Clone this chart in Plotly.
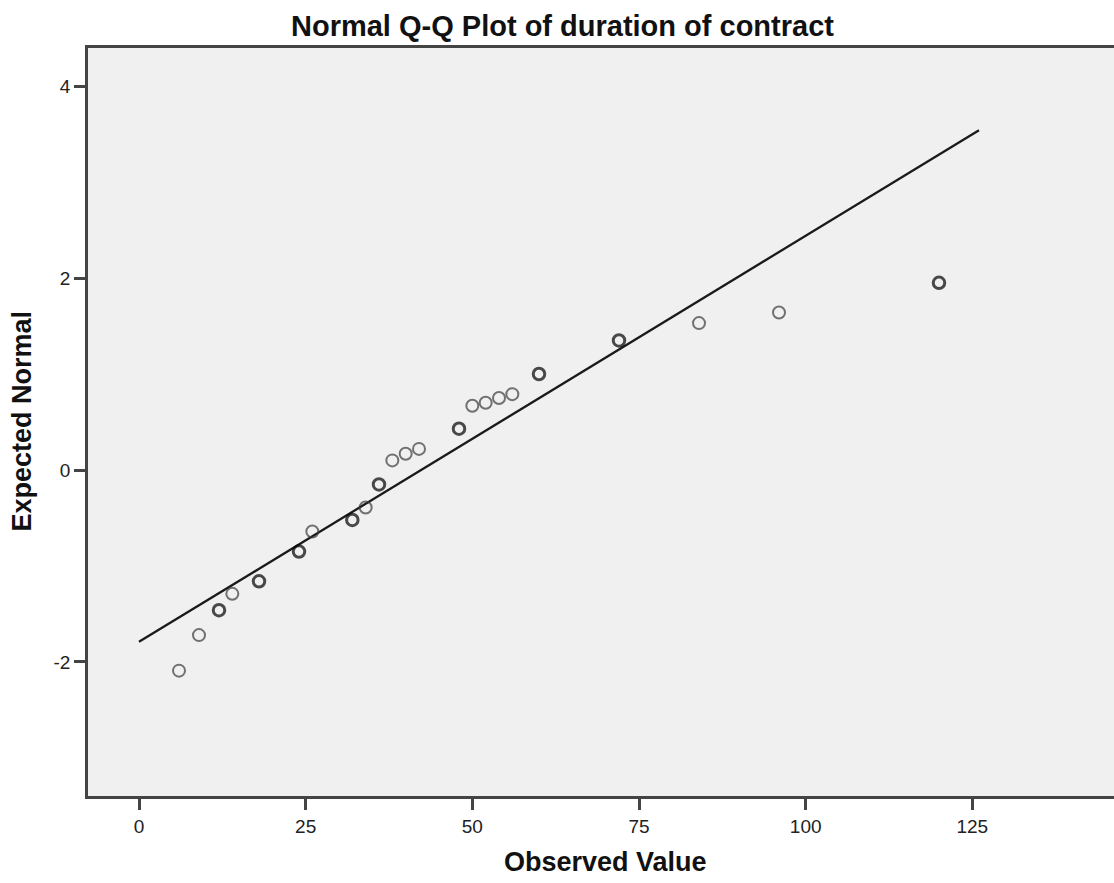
import plotly.graph_objects as go

observed = [6, 9, 12, 14, 18, 24, 26, 32, 34, 36, 38, 40, 42, 48, 50, 52, 54, 56, 60, 72, 84, 96, 120]
expected = [-2.09, -1.72, -1.46, -1.29, -1.16, -0.85, -0.64, -0.52, -0.39, -0.15, 0.10, 0.17, 0.22,
            0.43, 0.67, 0.70, 0.75, 0.79, 1.00, 1.35, 1.53, 1.64, 1.95]
# multiplicity (overlapping identical points draw darker)
counts = [1, 1, 2, 1, 2, 3, 1, 2, 1, 3, 1, 1, 1, 3, 1, 1, 1, 1, 4, 2, 1, 1, 2]

# reference line endpoints
line_x = [0, 126]
line_y = [-1.79, 3.54]

x_ticks = [0, 25, 50, 75, 100, 125]
y_ticks = [-2, 0, 2, 4]

FONT = "Liberation Sans, Arial, sans-serif"

W, H = 1114, 883
ML, MR, MT, MB = 88, 0, 48, 87
PW = W - ML - MR
PH = H - MT - MB


def px_x(px):
    return (px - ML) / PW


def px_y(py):
    return (H - MB - py) / PH


line_colors = ["#000000" if c > 1 else "#3a3a3a" for c in counts]
line_widths = [3.0 if c > 1 else 2.0 for c in counts]
sizes = [11.5 if c > 1 else 12 for c in counts]

fig = go.Figure()
fig.add_trace(go.Scatter(
    x=line_x, y=line_y, mode="lines",
    line=dict(color="#1a1a1a", width=2.3),
    showlegend=False, hoverinfo="skip",
))
fig.add_trace(go.Scatter(
    x=observed, y=expected, mode="markers",
    marker=dict(symbol="circle-open", size=sizes,
                color=line_colors,
                line=dict(color=line_colors, width=line_widths)),
    showlegend=False,
))

axis_common = dict(
    showgrid=False, zeroline=False, showline=True,
    linecolor="#444444", linewidth=2.5,
    ticks="outside", ticklen=11, tickwidth=2.5, tickcolor="#444444",
    tickfont=dict(family=FONT, size=19, color="#222222"),
)

fig.update_layout(
    width=W, height=H,
    margin=dict(l=ML, r=MR, t=MT, b=MB, autoexpand=False),
    paper_bgcolor="white",
    plot_bgcolor="#f0f0f0",
    xaxis=dict(range=[-7.65, 146.25], tickvals=x_ticks, ticktext=[str(v) for v in x_ticks],
               mirror=True, **axis_common),
    yaxis=dict(range=[-3.396, 4.396], tickvals=y_ticks, ticktext=[str(v) for v in y_ticks],
               **axis_common),
    annotations=[
        dict(text="<b>Normal Q-Q Plot of duration of contract</b>", xref="paper", yref="paper",
             x=px_x(562.7), y=px_y(25.5), xanchor="center", yanchor="middle", showarrow=False,
             font=dict(family=FONT, size=29, color="#111111")),
        dict(text="<b>Observed Value</b>", xref="paper", yref="paper",
             x=px_x(605), y=px_y(862), xanchor="center", yanchor="middle", showarrow=False,
             font=dict(family=FONT, size=27, color="#111111")),
        dict(text="<b>Expected Normal</b>", xref="paper", yref="paper",
             x=px_x(21.5), y=px_y(421), xanchor="center", yanchor="middle", showarrow=False,
             textangle=-90, font=dict(family=FONT, size=27, color="#111111")),
    ],
)

fig.write_html("out.html")
